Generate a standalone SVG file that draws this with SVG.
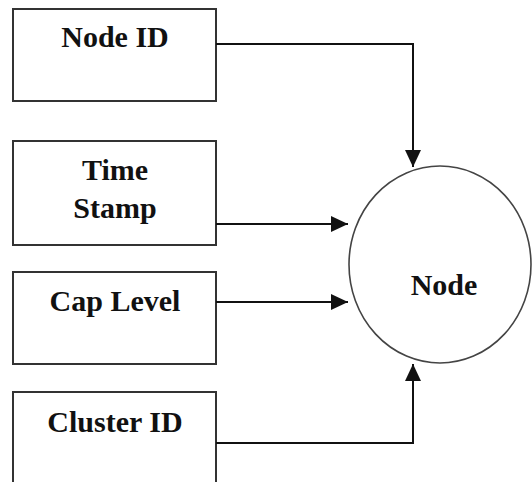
<svg xmlns="http://www.w3.org/2000/svg" width="532" height="482" viewBox="0 0 532 482">
  <style>
    .box { fill: #ffffff; stroke: #333333; stroke-width: 2; }
    .lbl { font-family: "Liberation Serif", "Times New Roman", serif; font-weight: bold; font-size: 30px; fill: #111111; text-anchor: middle; }
    .wire { fill: none; stroke: #111111; stroke-width: 2; }
    .hub { fill: #ffffff; stroke: #444444; stroke-width: 1.6; }
  </style>
  <defs>
    <marker id="arrow" markerUnits="userSpaceOnUse" markerWidth="18" markerHeight="18" viewBox="0 0 18 18" refX="17" refY="9" orient="auto">
      <path d="M0,1 L17,9 L0,17 Z" fill="#111111"/>
    </marker>
  </defs>
  <rect width="532" height="482" fill="#ffffff"/>

  <g id="node-id">
    <rect class="box" x="13" y="9" width="203" height="92"/>
    <text class="lbl" x="115" y="47">Node ID</text>
  </g>

  <g id="time-stamp">
    <rect class="box" x="13" y="141" width="203" height="104"/>
    <text class="lbl" x="115" y="180">Time</text>
    <text class="lbl" x="115" y="218">Stamp</text>
  </g>

  <g id="cap-level">
    <rect class="box" x="13" y="272" width="203" height="92"/>
    <text class="lbl" x="115" y="311">Cap Level</text>
  </g>

  <g id="cluster-id">
    <rect class="box" x="13" y="392" width="203" height="100"/>
    <text class="lbl" x="115" y="432">Cluster ID</text>
  </g>

  <g id="node">
    <ellipse class="hub" cx="440" cy="264.5" rx="91" ry="98.5"/>
    <text class="lbl" x="444" y="295">Node</text>
  </g>

  <g id="connectors">
    <path class="wire" d="M216,44 H413 V167" marker-end="url(#arrow)"/>
    <path class="wire" d="M216,224 H348" marker-end="url(#arrow)"/>
    <path class="wire" d="M216,302 H348" marker-end="url(#arrow)"/>
    <path class="wire" d="M216,443 H413 V364" marker-end="url(#arrow)"/>
  </g>
</svg>
